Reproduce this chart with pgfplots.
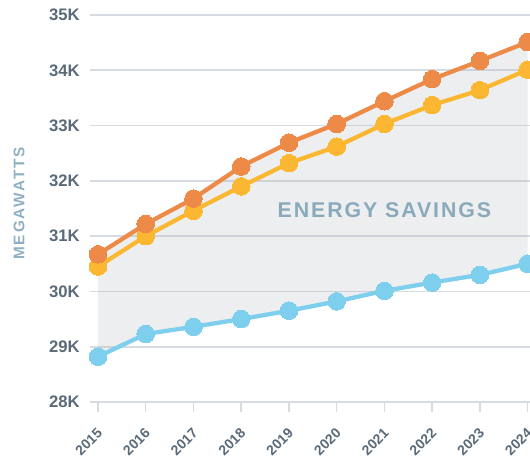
\documentclass[border=0pt]{standalone}
\usepackage{fontspec}
\setmainfont{Liberation Sans}
\usepackage{pgfplots}
\pgfplotsset{compat=1.18}
\definecolor{cOrange}{RGB}{238,138,72}
\definecolor{cYellow}{RGB}{251,183,50}
\definecolor{cBlue}{RGB}{125,207,237}
\definecolor{cGrid}{RGB}{213,219,224}
\definecolor{cFill}{RGB}{180,186,194}
\definecolor{cTick}{RGB}{90,106,120}
\definecolor{cLabel}{RGB}{143,176,194}
\definecolor{cSav}{RGB}{138,170,187}
\pgfplotstableread{
year orange yellow blue
2015 30670 30450 28820
2016 31220 31000 29230
2017 31680 31460 29360
2018 32260 31900 29500
2019 32690 32320 29650
2020 33030 32620 29820
2021 33440 33030 30010
2022 33840 33370 30160
2023 34170 33640 30300
2024 34510 34010 30500
}\data
\pgfplotstableread{
year val
2015 30670
2016 31220
2017 31680
2018 32260
2019 32690
2020 33030
2021 33440
2022 33840
2023 34170
2024 34510
2024 30500
2023 30300
2022 30160
2021 30010
2020 29820
2019 29650
2018 29500
2017 29360
2016 29230
2015 28820
}\band
\begin{document}
\begin{tikzpicture}
\useasboundingbox (0,0) rectangle (397.5pt,344.25pt);
\clip (0,0) rectangle (397.5pt,344.25pt);
\begin{axis}[
  at={(67.5pt,42.75pt)}, anchor=south west,
  scale only axis, width=330pt, height=290.25pt,
  xmin=2014.832, xmax=2024.05,
  ymin=28000, ymax=35000,
  scaled y ticks=false, scaled x ticks=false,
  clip=false,
  axis line style={draw=none},
  ymajorgrids, grid style={cGrid, line width=1.2pt},
  ytick={28000,29000,30000,31000,32000,33000,34000,35000},
  yticklabels={28K,29K,30K,31K,32K,33K,34K,35K},
  xtick={2015,...,2024},
  xticklabels={2015,2016,2017,2018,2019,2020,2021,2022,2023,2024},
  ytick style={draw=none},
  xtick style={draw=cGrid, line width=1.1pt},
  xtick pos=bottom, tick align=outside,
  major tick length=7.5pt,
  yticklabel style={font=\fontsize{12.5}{14}\selectfont\bfseries, text=cTick, anchor=east, inner sep=0pt, xshift=0pt},
  xticklabel style={font=\fontsize{10.5}{12}\selectfont\bfseries, text=cTick, xshift=1.5pt, yshift=-14pt, rotate=45, anchor=east, inner sep=0pt},
  ylabel={\addfontfeature{LetterSpace=12}MEGAWATTS},
  ylabel style={font=\fontsize{11.5}{13}\selectfont\bfseries, text=cLabel, at={(axis description cs:-0.161,0.513)}, anchor=center},
]
\addplot[draw=none, fill=cFill, fill opacity=0.25] table[x=year, y=val] {\band} -- cycle;
\addplot[cBlue, line width=3.2pt, mark=*, mark size=6.6pt, mark options={fill=cBlue, draw=cBlue, line width=0pt}] table[x=year, y=blue] {\data};
\addplot[cYellow, line width=3.2pt, mark=*, mark size=6.6pt, mark options={fill=cYellow, draw=cYellow, line width=0pt}] table[x=year, y=yellow] {\data};
\addplot[cOrange, line width=3.2pt, mark=*, mark size=6.6pt, mark options={fill=cOrange, draw=cOrange, line width=0pt}] table[x=year, y=orange] {\data};
\node[font=\fontsize{16}{18}\selectfont\bfseries\addfontfeature{LetterSpace=9}, text=cSav] at (axis cs:2021,31470) {ENERGY SAVINGS};
\end{axis}
\end{tikzpicture}
\end{document}
